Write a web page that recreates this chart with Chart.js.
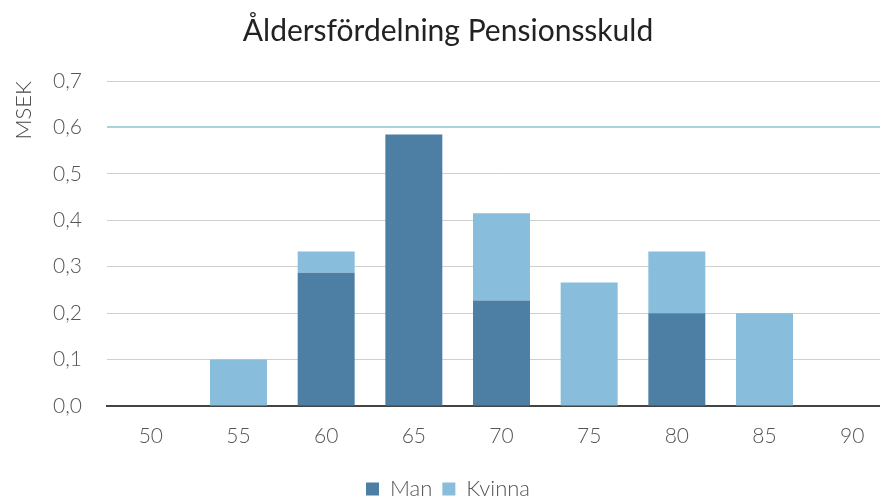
<!DOCTYPE html>
<html>
<head>
<meta charset="utf-8">
<script src="https://cdn.jsdelivr.net/npm/chart.js@4.4.1/dist/chart.umd.min.js"></script>
<style>
  html, body { margin: 0; padding: 0; background: #fff; overflow: hidden; }
  #wrap { width: 896px; height: 504px; position: relative; }
</style>
</head>
<body>
<div id="wrap"><canvas id="c"></canvas></div>
<script>
// Åldersgrupper (x-axel) och skuld per kön i MSEK
const ages = ['50', '55', '60', '65', '70', '75', '80', '85', '90'];
const man = [0, 0, 0.287, 0.585, 0.227, 0, 0.2, 0, 0];
const kvinna = [0, 0.1, 0.046, 0, 0.188, 0.266, 0.133, 0.2, 0];
const yTicks = [0, 0.1, 0.2, 0.3, 0.4, 0.5, 0.6, 0.7];

const FONT = 'Lato, "Open Sans", sans-serif';

new Chart(document.getElementById('c'), {
  type: 'bar',
  data: {
    labels: ages,
    datasets: [
      { label: 'Man', data: man, backgroundColor: '#4d7ea3', borderWidth: 0 },
      { label: 'Kvinna', data: kvinna, backgroundColor: '#88bddb', borderWidth: 0 }
    ]
  },
  options: {
    responsive: true,
    maintainAspectRatio: false,
    animation: false,
    layout: { padding: { left: 0, right: 0, top: 0, bottom: -6 } },
    datasets: { bar: { categoryPercentage: 1, barPercentage: 0.65 } },
    plugins: {
      tooltip: { enabled: false },
      title: {
        display: true,
        text: 'Åldersfördelning Pensionsskuld',
        color: '#222',
        font: { family: FONT, size: 30, weight: 'normal' },
        padding: { top: 13, bottom: 32 }
      },
      legend: {
        position: 'bottom',
        labels: {
          color: '#555',
          boxWidth: 13,
          boxHeight: 13,
          padding: 10,
          font: { family: FONT, size: 22, weight: 300 }
        }
      }
    },
    scales: {
      x: {
        stacked: true,
        afterFit: (s) => { s.height = 62; },
        grid: { display: false },
        border: { display: true, color: '#444', width: 2 },
        ticks: { color: '#555', font: { family: FONT, size: 21, weight: 300 }, padding: 10 }
      },
      y: {
        stacked: true,
        min: 0,
        max: 0.7,
        afterFit: (s) => { s.width = 107; },
        afterBuildTicks: (s) => { s.ticks = yTicks.map(v => ({ value: v })); },
        border: { display: false },
        grid: {
          color: (ctx) => Math.abs(ctx.tick.value - 0.6) < 1e-6 ? '#a9d4dc' : '#cfcfcf',
          lineWidth: (ctx) => Math.abs(ctx.tick.value - 0.6) < 1e-6 ? 2 : 1,
          drawTicks: false
        },
        ticks: {
          color: '#555',
          padding: 25,
          font: { family: FONT, size: 21, weight: 300 },
          callback: (v) => Number(v).toFixed(1).replace('.', ',')
        },
        title: {
          display: true,
          text: 'MSEK',
          align: 'end',
          color: '#444',
          font: { family: FONT, size: 22, weight: 300 },
          padding: { top: 11, bottom: 0 }
        }
      }
    }
  }
});
</script>
</body>
</html>
